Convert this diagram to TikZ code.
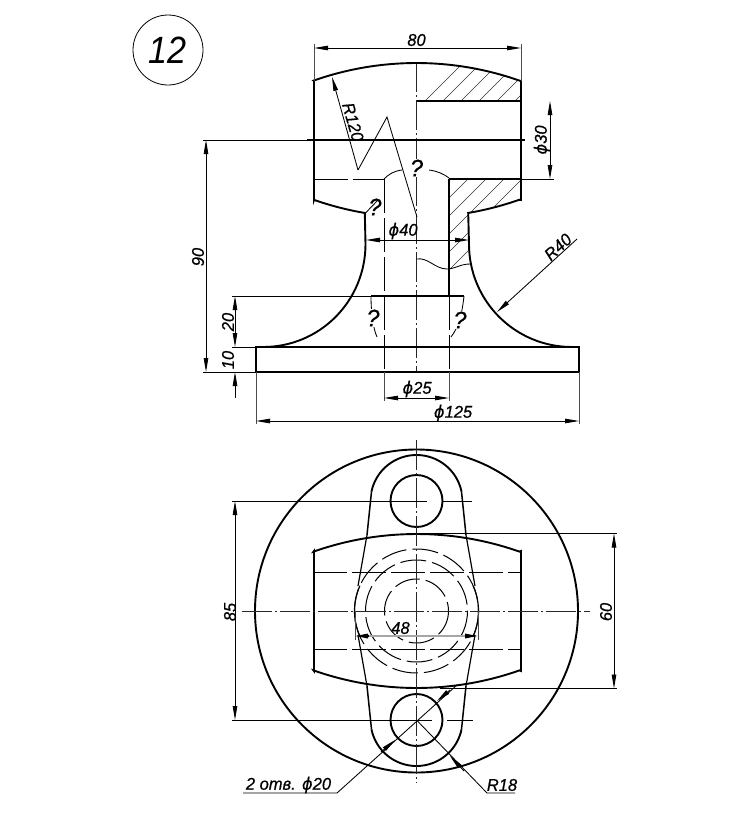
\documentclass[tikz,border=0pt]{standalone}
\usepackage{fontspec}
\setmainfont[FakeStretch=0.97,FakeBold=0.6]{Liberation Sans}
\newfontfamily\phifont[FakeStretch=0.97,FakeBold=0.6]{DejaVu Sans}
\newfontfamily\badgefont[FakeStretch=0.9]{Liberation Sans}
\usetikzlibrary{arrows.meta}
\newcommand{\ph}{{\phifont\itshape ϕ}}
\tikzset{
  x=1pt,y=-1pt,
  thickline/.style={line width=1.9pt,line join=miter},
  medline/.style={line width=1.2pt},
  thinline/.style={line width=0.85pt},
  extline/.style={line width=0.8pt,black!70},
  hatchline/.style={line width=0.5pt,black!80},
  centerline/.style={line width=0.6pt,black!85,dash pattern=on 30pt off 3pt on 2pt off 3pt},
  hiddenline/.style={line width=1pt,dash pattern=on 34pt off 5pt},
  hiddenarc/.style={line width=1pt,dash pattern=on 26pt off 6pt},
  dimline/.style={thinline,{Triangle[length=14pt,width=4.5pt]}-{Triangle[length=14pt,width=4.5pt]}},
  leaderline/.style={thinline,-{Triangle[length=14pt,width=4.5pt]}},
  lab/.style={font=\fontsize{17}{18}\selectfont\itshape,inner sep=0pt},
  qmark/.style={font=\fontsize{24}{25}\selectfont\itshape,inner sep=1pt,fill=white},
}
\begin{document}
\begin{tikzpicture}
\useasboundingbox (0,0) rectangle (749,830);
\def\Rb{310}

% number badge
\node[draw,circle,line width=0.8pt,minimum size=70pt,inner sep=0pt,font=\badgefont\fontsize{38}{40}\selectfont\itshape] (badge) at (168,50) {12};

% --- front view: hatching
\begin{scope}
\clip (416.5,101) -- plot[domain=0:19.7,samples=30,variable=\a]({416.5+\Rb*sin(\a)},{373-\Rb*cos(\a)}) -- (521,101) -- cycle;
\foreach \k in {0,...,14} \draw[hatchline] ({526+18*\k-200},200) -- ({526+18*\k},0);
\end{scope}
\begin{scope}
\clip (449,179) -- (521,179) -- (521,200) -- (469,213) -- (469,244)
  .. controls (469.5,250) and (470,258) .. (472,264)
  .. controls (462,262) and (456,269) .. (449,269) -- cycle;
\foreach \k in {0,...,8} \draw[hatchline] ({647+18*\k-300},300) -- ({647+18*\k},0);
\end{scope}

% centre line front
\draw[centerline] (416.5,62) -- (416.5,372);

% body outline
\draw[thickline] (314,81) -- plot[domain=-19.4:19.4,samples=40,variable=\a]({416.5+\Rb*sin(\a)},{373-\Rb*cos(\a)}) -- (521,81);
\draw[thickline] (314,81) -- (314,200) -- plot[domain=-19.3:-9.6,samples=15,variable=\a]({416.5+\Rb*sin(\a)},{-92.7+\Rb*cos(\a)}) -- (365.5,244);
\draw[thickline] (521,81) -- (521,200) -- plot[domain=19.3:9.6,samples=15,variable=\a]({416.5+\Rb*sin(\a)},{-92.7+\Rb*cos(\a)}) -- (469,244);
\draw[thickline] (365.5,244) .. controls (365.5,301) and (320,347) .. (263,347);
\draw[thickline] (469,244) .. controls (469,301) and (515,347) .. (572,347);
\draw[thickline] (256,347) rectangle (579,372);
\draw[thickline] (307,140) -- (525,140);
\draw[thickline] (449,179) -- (521,179);
\draw[medline] (416.5,101) -- (521,101);
\draw[line width=1.5pt] (449,179) -- (449,296);
\draw[hiddenline] (449,296) -- (449,372);
\draw[hiddenline] (384,179) -- (384,372);
\draw[hiddenline] (314,179) -- (384,179);
\draw[line width=1.5pt] (371,296) -- (464,296);
% thin curves
\draw[thinline] (384,179) .. controls (389,174) and (394,171) .. (402,170);
\draw[thinline] (429,170) .. controls (437,171) and (444,174) .. (449,178);
\draw[thinline] (365.5,213) -- (378,200);
\draw[thinline] (371,296) .. controls (371,312) and (373,328) .. (377,337);
\draw[thinline] (464,296) .. controls (462,315) and (458,328) .. (451,337);
\draw[thinline] (416.5,259) .. controls (428,257) and (435,269) .. (447,269) .. controls (455,269) and (460,264) .. (470,264);

% question marks
\node[qmark] (q1) at (416.5,168) {?};
\node[qmark,fill=none] (q2) at (375,207) {?};
\node[qmark] (q3) at (373,318) {?};
\node[qmark] (q4) at (460,320) {?};

% front dims
\draw[extline] (314,44) -- (314,81);
\draw[extline] (521,44) -- (521,81);
\draw[dimline] (314,48) -- (521,48);
\node[lab] (t80) at (416.5,40) {80};
\draw[thinline] (521,179) -- (554,179);
\draw[dimline] (550,101) -- (550,179);
\node[lab,rotate=90] (t30) at (542,140) {\ph30};
\draw[thinline] (203,140) -- (307,140);
\draw[thinline] (203,372) -- (256,372);
\draw[dimline] (206,140) -- (206,372);
\node[lab,rotate=90] (t90) at (198,257) {90};
\draw[thinline] (232,296) -- (371,296);
\draw[thinline] (232,347) -- (256,347);
\draw[dimline] (235,296) -- (235,347);
\node[lab,rotate=90] (t20) at (228,322) {20};
\draw[thinline,-{Triangle[length=14pt,width=4.5pt]}] (235,398) -- (235,372);
\node[lab,rotate=90] (t10) at (228,360) {10};
\draw[extline] (256,372) -- (256,424);
\draw[extline] (579,372) -- (579,424);
\draw[dimline] (256,421) -- (579,421);
\node[lab] (t125) at (453,413) {\ph125};
\draw[extline] (384,372) -- (384,401);
\draw[extline] (449,372) -- (449,401);
\draw[dimline] (384,398) -- (449,398);
\node[lab] (t25) at (417,389) {\ph25};
\draw[dimline] (366,240) -- (469,240);
\node[lab] (t40) at (403,231) {\ph40};
\coordinate (r120a) at (358,170);
\coordinate (r120b) at (387,117);
\coordinate (r120c) at (417,217);
\coordinate (r120tip) at (332,77);
\draw[thinline] (r120c) -- (r120b) -- (r120a);
\draw[leaderline] (r120a) -- (r120tip);
\node[lab,rotate=-74] (t120) at (353,122) {R120};
\coordinate (r40a) at (577,239);
\coordinate (r40tip) at (497,312);
\draw[leaderline] (r40a) -- (r40tip);
\node[lab,rotate=43] (t40r) at (558,247) {R40};

% --- top view
\draw[thickline] (416.5,611) circle[radius=161.5];
\draw[thickline] (416.5,501) circle[radius=26];
\draw[thickline] (416.5,720) circle[radius=26];
% lobes
\draw[thickline] plot[domain=11.7:168.3,samples=40,variable=\a]({416.5+46*cos(\a)},{501-46*sin(\a)});
\draw[thickline] plot[domain=11.7:168.3,samples=40,variable=\a]({416.5+46*cos(\a)},{720+46*sin(\a)});
\draw[line width=1.5pt] (371.5,491.7) -- (367,535);
\draw[line width=1.5pt] (461.5,491.7) -- (466,535);
\draw[line width=1.5pt] (371.5,729.3) -- (367,686);
\draw[line width=1.5pt] (461.5,729.3) -- (466,686);
\draw[medline] (367,535) -- (358,586);
\draw[medline] (466,535) -- (475,586);
\draw[medline] (367,686) -- (358,635);
\draw[medline] (466,686) -- (475,635);
% block
\draw[thickline] (314,551) -- plot[domain=-19.4:19.4,samples=40,variable=\a]({416.5+\Rb*sin(\a)},{844-\Rb*cos(\a)}) -- (521,551) -- (521,671)
  -- plot[domain=19.4:-19.4,samples=40,variable=\a]({416.5+\Rb*sin(\a)},{378+\Rb*cos(\a)}) -- (314,671) -- cycle;
% hidden
\draw[hiddenline] (313,572) -- (521,572);
\draw[hiddenline] (313,649.5) -- (521,649.5);
\draw[hiddenarc] (416.5,611) circle[radius=62];
\draw[hiddenarc] (416.5,611) circle[radius=51];
\draw[hiddenarc] (416.5,611) circle[radius=32];
\draw[medline] plot[domain=-24:24,samples=15,variable=\a]({416.5+62*cos(\a)},{611+62*sin(\a)});
\draw[medline] plot[domain=156:204,samples=15,variable=\a]({416.5+62*cos(\a)},{611+62*sin(\a)});
% centres
\draw[centerline,line width=0.9pt] (242,611) -- (590,611);
\draw[centerline] (416.5,440) -- (416.5,783);
% dims
\draw[thinline] (232,501) -- (427,501);
\draw[thinline] (443,501) -- (472,501);
\draw[thinline] (232,720) -- (432,720);
\draw[thinline] (447,720) -- (473,720);
\draw[dimline] (235,501) -- (235,720);
\node[lab,rotate=90] (t85) at (230,612) {85};
\draw[thinline] (416.5,533.5) -- (617,533.5);
\draw[thinline] (440,688.5) -- (617,688.5);
\draw[dimline] (614,533.5) -- (614,688.5);
\node[lab,rotate=90] (t60) at (606,612) {60};
\draw[extline] (355,611) -- (355,640);
\draw[extline] (478,611) -- (478,640);
\draw[line width=1.3pt,black!35] (366,636) -- (467,636);
\draw[line width=1.6pt,-{Triangle[length=13pt,width=4.5pt]}] (368,636) -- (355,636);
\draw[line width=1.6pt,-{Triangle[length=13pt,width=4.5pt]}] (465,636) -- (478,636);
\node[lab] (t48) at (400.5,628) {48};
% leaders
\coordinate (holeA) at (437,701);
\coordinate (holeB) at (395,740);
\coordinate (holeEnd) at (457,685);
\coordinate (knee1) at (337,793);
\coordinate (left1) at (243,793);
\coordinate (knee2) at (487,793);
\coordinate (right2) at (515,793);
\coordinate (hc) at (416.5,720);
\coordinate (r18tip) at (450,756);
\draw[thinline] (holeEnd) -- (knee1) -- (left1);
\draw[thinline,-{Triangle[length=14pt,width=4.5pt]}] (450,690) -- (holeA);
\draw[thinline,-{Triangle[length=14pt,width=4.5pt]}] (381,752) -- (holeB);
\draw[thinline] (hc) -- (knee2) -- (right2);
\draw[thinline,-{Triangle[length=14pt,width=4.5pt]}] (464,771) -- (r18tip);
\node[lab] (holes) at (288.5,785) {2 отв. \ph20};
\node[lab] (t18) at (502,785) {R18};
\end{tikzpicture}
\end{document}
